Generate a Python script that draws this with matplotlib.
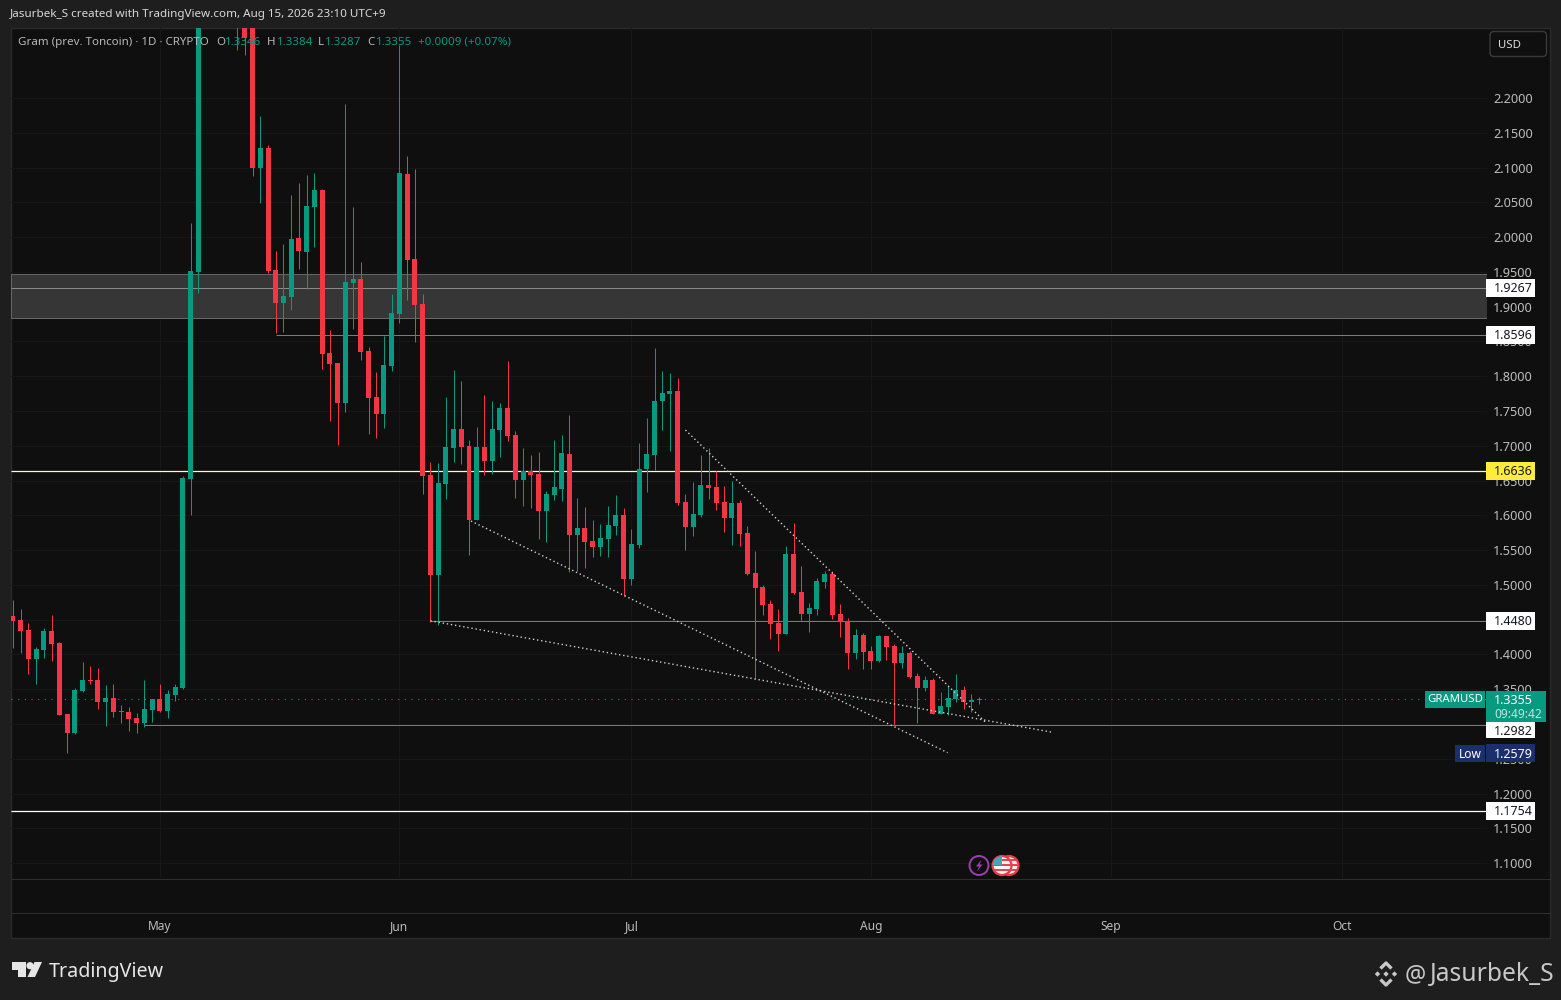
import numpy as np
import pandas as pd
import matplotlib
matplotlib.use("Agg")
import matplotlib.pyplot as plt
import matplotlib.dates as mdates
from matplotlib.patches import Rectangle, Circle, Polygon, FancyBboxPatch

plt.rcParams['font.family'] = ['Noto Sans', 'DejaVu Sans']

# daily candles, 12 Apr - 15 Aug 2026 (7-10 May are above the visible range)
nan = float('nan')
dates = pd.date_range('2026-04-12', '2026-08-15', freq='D')

opens = [
    1.4552, 1.4495, 1.4351, 1.3934, 1.4064, 1.4337, 1.4164, 1.3144, 1.2871, 1.3475,
    1.3633, 1.3633, 1.3316, 1.3374, 1.3187, 1.3173, 1.3087, 1.3015, 1.3201,
    # May
    1.3360, 1.3187, 1.3417, 1.3518, 1.6521, 1.9505, nan, nan, nan, nan,
    2.4500, 2.4500, 2.4000, 2.1000, 2.1282, 1.9529, 1.9055, 1.9141, 1.9989, 1.9788,
    2.0434, 2.0679, 1.8336, 1.8193, 1.7618, 1.9337, 1.9400, 1.8365, 1.7704, 1.7460, 1.8149,
    # Jun
    1.8897, 2.0908, 1.9687, 1.9040, 1.6581, 1.5144, 1.6451, 1.6969, 1.7242, 1.6997,
    1.5934, 1.6983, 1.6782, 1.7227, 1.7543, 1.7155, 1.6509, 1.6638, 1.6595, 1.6063,
    1.6293, 1.6379, 1.6882, 1.5718, 1.5819, 1.5632, 1.5546, 1.5661, 1.5848, 1.6006,
    # Jul
    1.5086, 1.5575, 1.6667, 1.6868, 1.7644, 1.7745, 1.7788, 1.6193, 1.5833, 1.6006,
    1.6437, 1.6408, 1.6193, 1.5963, 1.6178, 1.5747, 1.5172, 1.4971, 1.4727, 1.4454,
    1.4296, 1.5445, 1.4899, 1.4583, 1.4655, 1.5043, 1.5156, 1.4581, 1.4480, 1.4021, 1.4279,
    # Aug
    1.4049, 1.3906, 1.4265, 1.4121, 1.3877, 1.4021, 1.3690, 1.3518, 1.3633, 1.3144,
    1.3245, 1.3360, 1.3489, 1.3316, 1.3346,
]
highs = [
    1.4782, 1.4653, 1.4452, 1.4107, 1.4380, 1.4567, 1.4179, 1.3144, 1.3518, 1.3891,
    1.3834, 1.3805, 1.3561, 1.3575, 1.3273, 1.3245, 1.3158, 1.3633, 1.3360,
    # May
    1.3575, 1.3489, 1.3575, 1.6569, 2.0204, 2.5000, nan, nan, nan, nan,
    2.5000, 2.5000, 2.4200, 2.1742, 2.1325, 1.9802, 1.9903, 2.0607, 2.0779, 2.0894,
    2.0923, 2.0693, 1.8667, 1.8193, 2.1914, 2.0434, 1.9644, 1.8423, 1.8063, 1.8585, 1.9184,
    # Jun
    2.2762, 2.1167, 2.0980, 1.9184, 1.6767, 1.6753, 1.7701, 1.8089, 1.7931, 1.7084,
    1.7270, 1.7730, 1.7644, 1.7615, 1.8219, 1.7213, 1.6969, 1.6868, 1.6911, 1.6351,
    1.7084, 1.7155, 1.7443, 1.6250, 1.6121, 1.5934, 1.5876, 1.6135, 1.6293, 1.6106,
    # Jul
    1.5805, 1.7040, 1.7400, 1.8406, 1.8075, 1.8046, 1.7974, 1.6308, 1.6480, 1.6868,
    1.6969, 1.6638, 1.6423, 1.6494, 1.6221, 1.5848, 1.5488, 1.4999, 1.4784, 1.4655,
    1.5560, 1.5891, 1.5273, 1.4741, 1.5100, 1.5201, 1.5199, 1.4725, 1.4524, 1.4365, 1.4308,
    # Aug
    1.4121, 1.4279, 1.4265, 1.4150, 1.4121, 1.4049, 1.3733, 1.3690, 1.3661, 1.3460,
    1.3546, 1.3719, 1.3546, 1.3431, 1.3384,
]
lows = [
    1.4097, 1.4025, 1.3724, 1.3580, 1.3954, 1.3910, 1.3130, 1.2579, 1.2857, 1.3460,
    1.3580, 1.3216, 1.2972, 1.3101, 1.3015, 1.2900, 1.2871, 1.2957, 1.3029,
    # May
    1.3173, 1.3087, 1.3331, 1.3500, 1.6008, 1.9198, nan, nan, nan, nan,
    2.2690, 2.2619, 2.0885, 2.0492, 1.9486, 1.8624, 1.8638, 1.8954, 1.9543, 1.9256,
    1.9859, 1.8106, 1.7359, 1.7014, 1.7488, 1.8681, 1.8236, 1.7172, 1.7115, 1.7259, 1.8078,
    # Jun
    1.8767, 1.9098, 1.8494, 1.6307, 1.4468, 1.4425, 1.6236, 1.6767, 1.6739, 1.5431,
    1.5934, 1.6581, 1.6595, 1.6839, 1.7069, 1.6250, 1.6135, 1.6106, 1.5661, 1.5618,
    1.6221, 1.6207, 1.5187, 1.5201, 1.5244, 1.5402, 1.5417, 1.5402, 1.5718, 1.4842,
    # Jul
    1.4999, 1.5532, 1.6336, 1.6652, 1.7227, 1.6925, 1.6149, 1.5503, 1.5704, 1.5977,
    1.6236, 1.6078, 1.5761, 1.5575, 1.5560, 1.5144, 1.3649, 1.4569, 1.4224, 1.4052,
    1.4296, 1.4871, 1.4497, 1.4324, 1.4569, 1.4957, 1.4509, 1.4250, 1.3791, 1.3934, 1.3791,
    # Aug
    1.3791, 1.3891, 1.3920, 1.2990, 1.3805, 1.3661, 1.3015, 1.3475, 1.3144, 1.3144,
    1.3130, 1.3316, 1.3216, 1.3173, 1.3287,
]
closes = [
    1.4480, 1.4337, 1.3934, 1.4078, 1.4337, 1.4150, 1.3130, 1.2871, 1.3489, 1.3633,
    1.3618, 1.3316, 1.3374, 1.3173, 1.3173, 1.3072, 1.3015, 1.3216, 1.3360,
    # May
    1.3187, 1.3431, 1.3532, 1.6535, 1.9515, 2.4000, nan, nan, nan, nan,
    2.3600, 2.2868, 2.1000, 2.1282, 1.9515, 1.9055, 1.9155, 1.9974, 1.9802, 2.0449,
    2.0679, 1.8322, 1.8178, 1.7618, 1.9357, 1.9400, 1.8351, 1.7690, 1.7460, 1.8164, 1.8911,
    # Jun
    2.0923, 1.9673, 1.9026, 1.6566, 1.5144, 1.6466, 1.6983, 1.7242, 1.6983, 1.5934,
    1.6983, 1.6782, 1.7242, 1.7543, 1.7141, 1.6509, 1.6638, 1.6581, 1.6063, 1.6308,
    1.6408, 1.6897, 1.5718, 1.5819, 1.5618, 1.5546, 1.5675, 1.5862, 1.6006, 1.5086,
    # Jul
    1.5589, 1.6667, 1.6882, 1.7644, 1.7759, 1.7788, 1.6178, 1.5833, 1.6020, 1.6437,
    1.6394, 1.6178, 1.5963, 1.6178, 1.5733, 1.5158, 1.4957, 1.4712, 1.4439, 1.4296,
    1.5445, 1.4885, 1.4583, 1.4669, 1.5057, 1.5158, 1.4567, 1.4466, 1.4021, 1.4279, 1.4035,
    # Aug
    1.3906, 1.4265, 1.4107, 1.3877, 1.4021, 1.3676, 1.3518, 1.3633, 1.3144, 1.3259,
    1.3374, 1.3489, 1.3316, 1.3345, 1.3355,
]

price_ticks = np.arange(22, 45) * 0.05
month_ticks = ['2026-05-01', '2026-06-01', '2026-07-01', '2026-08-01', '2026-09-01', '2026-10-01']
month_labels = ['May', 'Jun', 'Jul', 'Aug', 'Sep', 'Oct']

zone_low, zone_high = 1.8844, 1.9469
# (price, first date or None for full width, colour, line width, tag colour)
levels = [
    (1.9267, None, '#8a8a8a', 0.72, '#ffffff'),
    (1.8596, '2026-05-16', '#7a7a7a', 0.72, '#ffffff'),
    (1.6636, None, '#fbfbcf', 0.9, '#ffeb3b'),
    (1.4480, '2026-06-05', '#7a7a7a', 0.72, '#ffffff'),
    (1.2982, '2026-04-29', '#7a7a7a', 0.72, '#ffffff'),
    (1.1754, None, '#ffffff', 0.9, '#ffffff'),
]
trend_lines = [
    ('2026-07-08', 1.7226, '2026-08-15 22:00', 1.3014),
    ('2026-06-10 06:00', 1.5918, '2026-08-10 22:00', 1.2587),
    ('2026-06-05', 1.4483, '2026-08-24 12:00', 1.2880),
]
last_price = 1.3355
low_price = 1.2579

GREEN = '#089981'
RED = '#f23645'
PANE = '#0f0f0f'
OUTER = '#1e1e1e'
W, H = 1561, 1000

fig = plt.figure(figsize=(W / 100, H / 100), dpi=100, facecolor=OUTER)


def px_rect(left, top, right, bottom):
    return [left / W, 1 - bottom / H, (right - left) / W, (bottom - top) / H]


# pixel space layers behind and above the price chart
back = fig.add_axes([0, 0, 1, 1], zorder=0)
back.set_xlim(0, W)
back.set_ylim(H, 0)
back.axis('off')
back.add_patch(Rectangle((11, 28), 1539, 910, fc=PANE, ec='#2b2b2b', lw=1))
back.plot([11, 1550], [878.5, 878.5], color='#2e2e2e', lw=0.72)
back.plot([11, 1550], [912.5, 912.5], color='#2e2e2e', lw=0.72)

ax = fig.add_axes(px_rect(11, 28, 1487, 878), zorder=1, facecolor='none')
day0 = mdates.date2num(pd.Timestamp('2026-05-01'))
ax.set_xlim(day0 - 148.8 / 7.73, day0 + 1327.2 / 7.73)
ax.set_ylim(1.07851, 2.30065)
for side in ax.spines.values():
    side.set_visible(False)

ax.yaxis.tick_right()
ax.set_yticks(price_ticks)
ax.set_yticklabels([f'{p:.4f}' for p in price_ticks])
ax.set_xticks(mdates.date2num(pd.to_datetime(month_ticks)))
ax.set_xticklabels(month_labels)
ax.tick_params(axis='y', length=0, pad=4.3, labelsize=9.2, labelcolor='#bdbdbd')
ax.tick_params(axis='x', length=0, pad=30, labelsize=8.6, labelcolor='#bdbdbd')
ax.grid(True, color='#171717', lw=0.72)
ax.set_axisbelow(True)

# zone and horizontal levels
xfrac = lambda px: (px - 11) / 1476
ax.add_patch(Rectangle((0, zone_low), 1, zone_high - zone_low, transform=ax.get_yaxis_transform(),
                       fc='#363636', ec='#666666', lw=0.72, zorder=1.5))
for price, start, color, lw, tag_bg in levels:
    x0 = ax.get_xlim()[0] if start is None else mdates.date2num(pd.Timestamp(start))
    ax.plot([x0, ax.get_xlim()[1]], [price, price], color=color, lw=lw, zorder=2, solid_capstyle='butt')

ax.plot(ax.get_xlim(), [last_price, last_price], color=GREEN, lw=0.8, ls=(0, (1, 5)), zorder=2)

# candles
x = mdates.date2num(dates)
opens, highs, lows, closes = map(np.array, (opens, highs, lows, closes))
up = closes >= opens
colors = np.where(up, GREEN, RED)
body_w = 5 / 7.73
for i in range(len(x)):
    if np.isnan(opens[i]):
        continue
    ax.vlines(x[i], lows[i], highs[i], color=colors[i], lw=0.72, zorder=3, snap=True)
    bottom = min(opens[i], closes[i])
    height = max(abs(closes[i] - opens[i]), 0.0014)
    ax.bar(x[i], height, width=body_w, bottom=bottom, color=colors[i], lw=0, zorder=3.1)

# dotted trend lines
for d0, p0, d1, p1 in trend_lines:
    ax.plot(mdates.date2num(pd.to_datetime([d0, d1], format='mixed')), [p0, p1], color='#d0d0d0', lw=1,
            ls=(0, (1, 2)), zorder=4)


def price_tag(price, text, bg, fg='#131722', left=1486, right=1534.5, half=9, shift=0.0):
    # shift is in price units, for tags pushed away from their line by a neighbour
    h = half / 695.5
    tag_y = price + shift
    ax.add_patch(Rectangle((xfrac(left), tag_y - h), xfrac(right) - xfrac(left), 2 * h,
                           transform=ax.get_yaxis_transform(), fc=bg, ec='none',
                           clip_on=False, zorder=10))
    ax.text(xfrac(left + 8), tag_y - 0.0012, text, transform=ax.get_yaxis_transform(), color=fg,
            fontsize=9.0, va='center', ha='left', zorder=11, clip_on=False)


for price, start, color, lw, tag_bg in levels:
    if price == 1.2982:
        price_tag(price, f'{price:.4f}', tag_bg, half=8, shift=-0.0072)
    else:
        price_tag(price, f'{price:.4f}', tag_bg)

price_tag(low_price, f'{low_price:.4f}', '#1a2f6b', '#ffffff')

front = fig.add_axes([0, 0, 1, 1], zorder=2, facecolor='none')
front.set_xlim(0, W)
front.set_ylim(H, 0)
front.axis('off')

# last price tag
front.add_patch(Rectangle((1425, 691), 60, 17, fc=GREEN, ec='none'))
front.add_patch(Rectangle((1486, 691), 60, 31, fc=GREEN, ec='none'))
front.text(1455, 700, 'GRAMUSD', color='white', fontsize=8.2, ha='center', va='center')
front.text(1494, 700, f'{last_price:.4f}', color='white', fontsize=9.0, va='center')
front.text(1494, 714.5, '09:49:42', color='#bfe6de', fontsize=8.6, va='center')
front.add_patch(Rectangle((1455, 745), 30, 17, fc='#1a2f6b', ec='none'))
front.text(1470, 754, 'Low', color='white', fontsize=8.6, ha='center', va='center')

# USD button
front.add_patch(FancyBboxPatch((1490, 31.5), 56.5, 25, boxstyle='round,pad=0,rounding_size=4',
                               fc='none', ec='#3a3a3a', lw=1))
front.text(1498, 45.5, 'USD', color='#dddddd', fontsize=8.2, va='center')

# header and legend
front.text(10, 15, 'Jasurbek_S created with TradingView.com, Aug 15, 2026 23:10 UTC+9',
           color='#d8d8d8', fontsize=8.4, va='center')
legend_items = [
    (18, 'Gram (prev. Toncoin) · 1D · CRYPTO', '#b8b8b8'),
    (216, 'O', '#b8b8b8'), (225, '1.3346', GREEN),
    (267, 'H', '#b8b8b8'), (277, '1.3384', GREEN),
    (318, 'L', '#b8b8b8'), (325, '1.3287', GREEN),
    (367, 'C', '#b8b8b8'), (376, '1.3355', GREEN),
    (418, '+0.0009 (+0.07%)', GREEN),
]
for lx, text, color in legend_items:
    front.text(lx, 42.5, text, color=color, fontsize=8.3, va='center')

# event icons under the chart
front.add_patch(Circle((979, 865.5), 9.5, fc=PANE, ec='#9c3fb0', lw=1.4))
front.add_patch(Polygon([(981.5, 859.5), (976, 866.5), (979, 866.5), (977, 871.5), (982.5, 864.5), (979.5, 864.5)],
                        fc='#9c3fb0', ec='none'))
for cx in (1009, 1002):
    ring = Circle((cx, 865.5), 9.5, fc='#f5f5f5', ec='#f23645', lw=1.6, zorder=3)
    front.add_patch(ring)
    for sy in (860, 865, 870):
        s = front.add_patch(Rectangle((cx - 10, sy - 1.3), 20, 2.6, fc='#e8434f', ec='none', zorder=3.1))
        s.set_clip_path(ring)
    if cx == 1002:
        c = front.add_patch(Rectangle((cx - 10, 855), 10, 10, fc='#4aa3b8', ec='none', zorder=3.2))
        c.set_clip_path(ring)

# footer logos
LOGO = '#e6e6e6'
front.add_patch(Polygon([(12, 962), (25.7, 962), (25.7, 977), (18.5, 977), (18.5, 969.5), (12, 969.5)], fc=LOGO, ec='none'))
front.add_patch(Circle((30, 965.7), 3.6, fc=LOGO, ec='none'))
front.add_patch(Polygon([(34.5, 962), (42, 962), (35, 977), (27.5, 977)], fc=LOGO, ec='none'))
front.text(48.5, 972, 'TradingView', color=LOGO, fontsize=14.2, fontweight='bold', va='center')

for cx, cy in [(1386, 974), (1377.5, 974), (1394.5, 974)]:
    front.add_patch(Polygon([(cx - 2.7, cy), (cx, cy - 2.7), (cx + 2.7, cy), (cx, cy + 2.7)], fc='#c8c8c8', ec='none'))
front.plot([1380.5, 1386, 1391.5], [968.5, 963, 968.5], color='#c8c8c8', lw=2.4, solid_capstyle='butt')
front.plot([1380.5, 1386, 1391.5], [979.5, 985, 979.5], color='#c8c8c8', lw=2.4, solid_capstyle='butt')
front.text(1405, 975, '@', color='#c8c8c8', fontsize=17, va='center')
front.text(1430, 975, 'Jasurbek_S', color='#c8c8c8', fontsize=17.7, va='center')

fig.savefig('out.png', dpi=100, facecolor=OUTER)
